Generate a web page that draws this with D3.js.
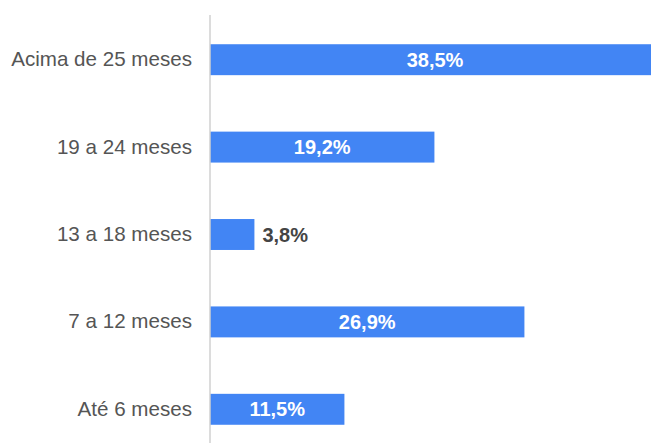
<!DOCTYPE html>
<html>
<head>
<meta charset="utf-8">
<script src="https://cdn.jsdelivr.net/npm/d3@7"></script>
<style>
  html, body { margin: 0; padding: 0; background: #fff; overflow: hidden; }
  svg { display: block; font-family: "Liberation Sans", Arial, sans-serif; }
</style>
</head>
<body>
<div id="chart"></div>
<script>
// faixas de tempo (de cima para baixo) e percentuais
var categories = ["Acima de 25 meses", "19 a 24 meses", "13 a 18 meses", "7 a 12 meses", "Até 6 meses"];
var values = [38.5, 19.2, 3.8, 26.9, 11.5];
var valueLabels = ["38,5%", "19,2%", "3,8%", "26,9%", "11,5%"];

var width = 651, height = 443;

var svg = d3.select("#chart").append("svg")
  .attr("width", width)
  .attr("height", height);

var data = categories.map(function(c, i) {
  return { cat: c, value: values[i], label: valueLabels[i] };
});

// the longest bar runs past the right edge, as in the original
var x = d3.scaleLinear().domain([0, 38.5]).range([210, 660]);
var y = d3.scaleBand().domain(categories).range([16, 453])
  .paddingInner(0.646).paddingOuter(0.323);

// bars
svg.selectAll("rect.bar")
  .data(data)
  .enter()
  .append("rect")
  .attr("class", "bar")
  .attr("x", x(0))
  .attr("y", function(d) { return y(d.cat); })
  .attr("width", function(d) { return x(d.value) - x(0); })
  .attr("height", y.bandwidth())
  .attr("fill", "#4285f4");

// category labels
var yAxis = svg.append("g")
  .attr("transform", "translate(" + x(0) + ",0)")
  .call(d3.axisLeft(y).tickSize(0).tickPadding(18));
yAxis.select(".domain").remove();
yAxis.selectAll("text")
  .attr("fill", "#555")
  .style("font-size", "20.6px")
  .style("font-family", "'Liberation Sans', Arial, sans-serif");

// baseline
svg.append("line")
  .attr("x1", x(0)).attr("x2", x(0))
  .attr("y1", 15).attr("y2", height)
  .attr("stroke", "#d0d0d0")
  .attr("stroke-width", 1.5);

// value labels: inside the bar when it fits, else just after it
svg.selectAll("text.val")
  .data(data)
  .enter()
  .append("text")
  .attr("class", "val")
  .attr("x", function(d) {
    var w = x(d.value) - x(0);
    return w > 70 ? (x(0) + x(d.value)) / 2 : x(d.value) + 8;
  })
  .attr("y", function(d) { return y(d.cat) + y.bandwidth() / 2; })
  .attr("dy", "0.35em")
  .attr("text-anchor", function(d) { return (x(d.value) - x(0)) > 70 ? "middle" : "start"; })
  .attr("fill", function(d) { return (x(d.value) - x(0)) > 70 ? "#fff" : "#444"; })
  .style("font-size", "20px")
  .style("font-weight", "bold")
  .text(function(d) { return d.label; });
</script>
</body>
</html>
